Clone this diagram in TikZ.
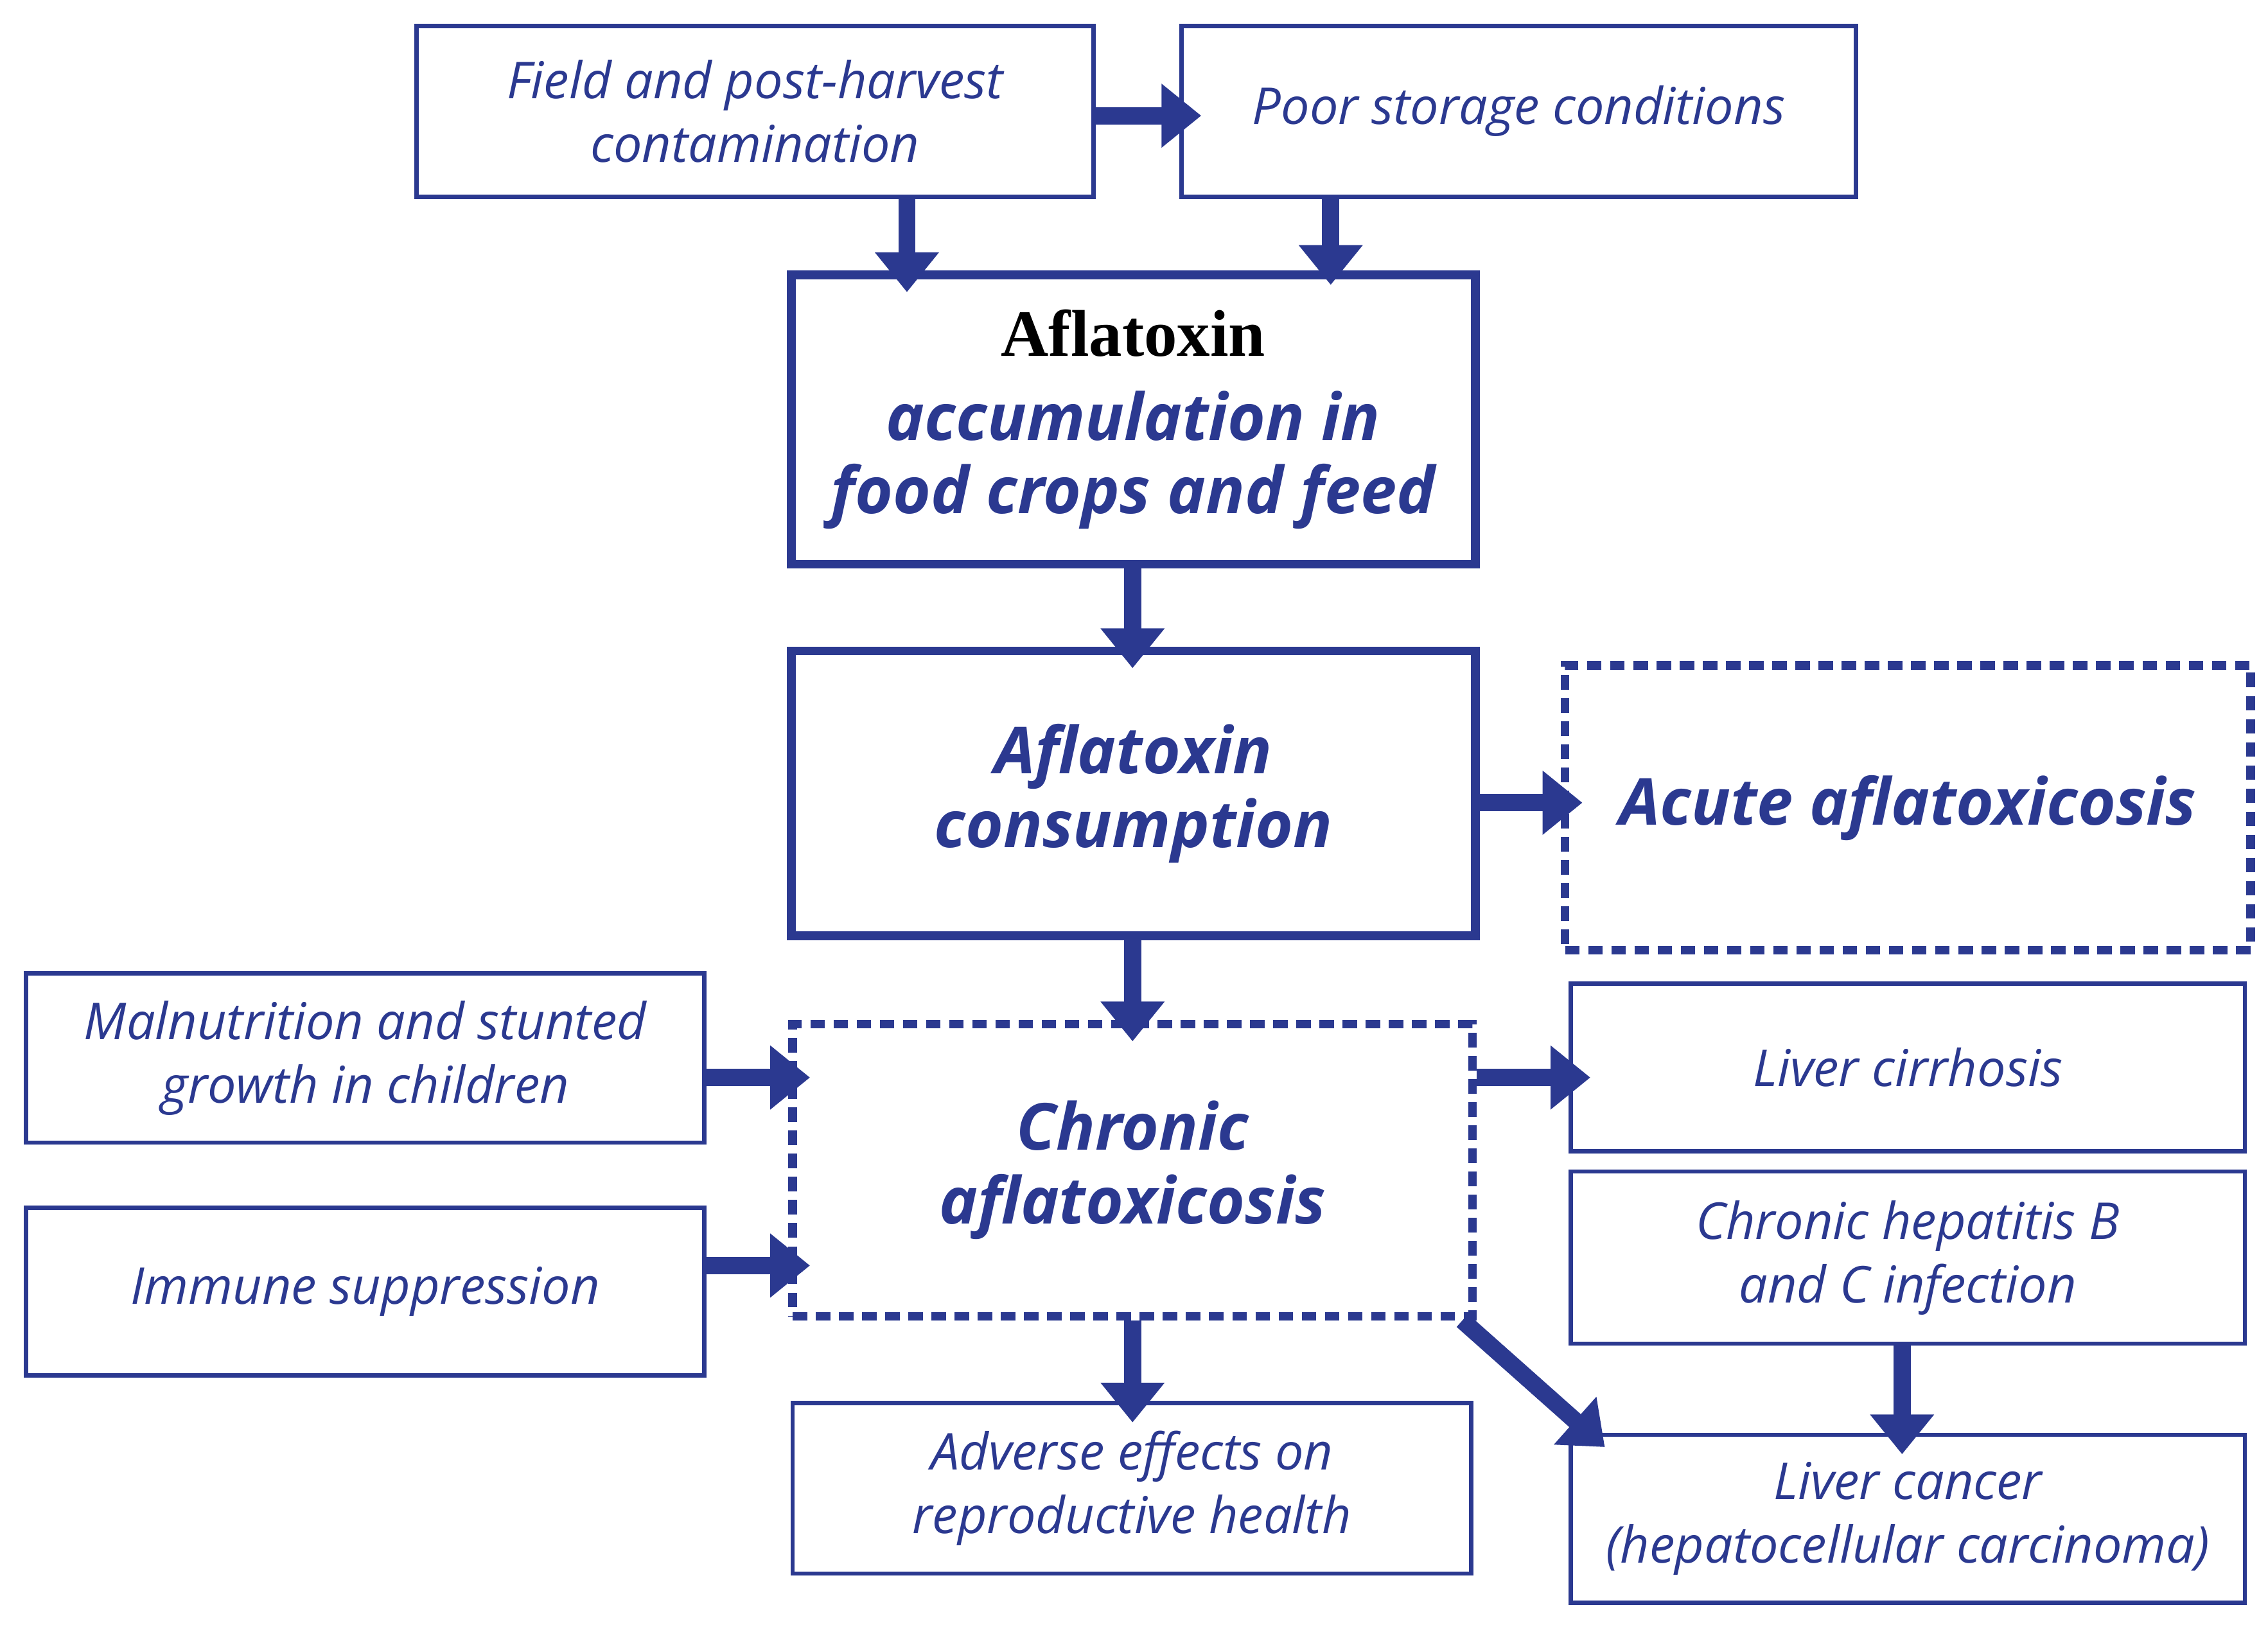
\documentclass[tikz,border=0pt]{standalone}
\usepackage{fontspec}
\setmainfont{Open Sans}
\newfontfamily\tms{Liberation Serif}
\usetikzlibrary{arrows.meta,calc}
\definecolor{ab}{HTML}{2B3990}
\begin{document}
\begin{tikzpicture}[x=0.02cm,y=-0.02cm,
 box/.style={draw=ab,line width=1.7pt,text=ab,align=center,inner sep=0pt,font=\fontsize{20}{25}\selectfont\itshape},
 tbox/.style={box,line width=3.4pt,font=\fontsize{25.5}{29}\selectfont\bfseries\itshape},
 dbox/.style={tbox,dash pattern=on 0.2cm off 0.12cm},
 arr/.style={draw=ab,line width=6.8pt,-{Triangle[width=0.85cm,length=0.55cm]}}]
\useasboundingbox (0,0) rectangle (1568,1128);
\def\bx#1#2#3#4#5#6#7{\node[#2,minimum width={(#5-#3)*0.02cm},minimum height={(#6-#4)*0.02cm}] (#1) at ({(#3+#5)/2},{(#4+#6)/2}) {#7};}
\bx{field}{box}{288}{18}{756}{136}{Field and post-harvest\\contamination}
\bx{poor}{box}{817}{18}{1283}{136}{Poor storage conditions}
\bx{accum}{tbox}{547}{190}{1020}{390}{{\tms\upshape\color{black}\fontsize{26}{30}\selectfont Aflatoxin}\\[4pt]accumulation in\\food crops and feed}
\bx{cons}{tbox}{547}{450}{1020}{647}{Aflatoxin\\consumption}
\bx{acute}{dbox}{1082}{460}{1556}{657}{Acute aflatoxicosis}
\bx{mal}{box}{18}{673}{487}{790}{Malnutrition and stunted\\growth in children}
\bx{chron}{dbox}{548}{708}{1018}{910}{Chronic\\aflatoxicosis}
\bx{cirr}{box}{1086}{680}{1552}{796}{Liver cirrhosis}
\bx{hep}{box}{1086}{810}{1552}{929}{Chronic hepatitis B\\and C infection}
\bx{imm}{box}{18}{835}{487}{951}{Immune suppression}
\bx{adv}{box}{548}{970}{1017}{1088}{Adverse effects on\\reproductive health}
\bx{canc}{box}{1086}{992}{1552}{1108}{Liver cancer\\(hepatocellular carcinoma)}
\draw[arr] (field.east |- 0,80) -- ([xshift=0.3cm]poor.west |- 0,80);
\draw[arr] (field.south -| 627,0) -- ([yshift=-0.3cm]accum.north -| 627,0);
\draw[arr] (poor.south -| 920,0) -- ([yshift=-0.2cm]accum.north -| 920,0);
\draw[arr] (accum.south -| 783,0) -- ([yshift=-0.3cm]cons.north -| 783,0);
\draw[arr] (cons.east |- 0,555) -- ([xshift=0.3cm]acute.west |- 0,555);
\draw[arr] (cons.south -| 783,0) -- ([yshift=-0.3cm]chron.north -| 783,0);
\draw[arr] (mal.east |- 0,745) -- ([xshift=0.3cm]chron.west |- 0,745);
\draw[arr] (imm.east |- 0,875) -- ([xshift=0.3cm]chron.west |- 0,875);
\draw[arr] (chron.east |- 0,745) -- ([xshift=0.3cm]cirr.west |- 0,745);
\draw[arr] (chron.south -| 783,0) -- ([yshift=-0.3cm]adv.north -| 783,0);
\draw[arr] ([xshift=-0.2cm]chron.south east) -- ([xshift=0.5cm,yshift=-0.2cm]canc.north west);
\draw[arr] (hep.south -| 1315,0) -- ([yshift=-0.3cm]canc.north -| 1315,0);
\end{tikzpicture}
\end{document}
